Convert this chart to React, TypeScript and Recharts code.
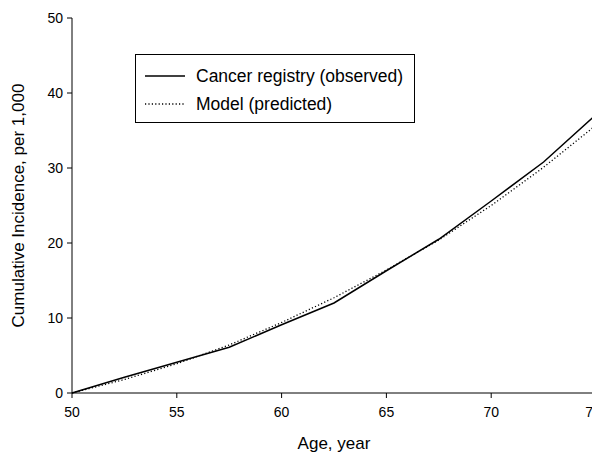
import React from 'react';
import { LineChart, Line, XAxis, YAxis } from 'recharts';

// Cumulative incidence per 1,000, by age
const ages = [50, 52.5, 55, 57.5, 60, 62.5, 65, 67.5, 70, 72.5, 75];
const observed = [0, 2.1, 4.1, 6.1, 9.1, 12.0, 16.3, 20.5, 25.6, 30.8, 37.1];
const predicted = [0, 1.8, 3.9, 6.4, 9.4, 12.7, 16.4, 20.4, 25.0, 30.1, 35.7];

const xTicks = [50, 55, 60, 65, 70, 75];
const yTicks = [0, 10, 20, 30, 40, 50];

const seriesNames = ['Cancer registry (observed)', 'Model (predicted)'];

const FONT = '"Liberation Sans", Arial, Helvetica, sans-serif';

const data = ages.map((age, i) => ({
  age,
  observed: observed[i],
  predicted: predicted[i],
}));

// boxed legend drawn over the plot, top-left area
function BoxLegend() {
  const rows = [
    { name: seriesNames[0], dash: undefined, width: 1.5, top: 22 },
    { name: seriesNames[1], dash: '1.2 2.2', width: 1.3, top: 50 },
  ];
  return (
    <div
      style={{
        position: 'absolute',
        left: 127,
        top: 46,
        width: 280,
        height: 69,
        boxSizing: 'border-box',
        border: '1px solid #000',
        background: '#fff',
        fontFamily: FONT,
        fontSize: 17.5,
        color: '#000',
      }}
    >
      {rows.map((r) => (
        <React.Fragment key={r.name}>
          <svg width={40} height={4} style={{ position: 'absolute', left: 9, top: r.top - 3 }}>
            <line x1={0} y1={2} x2={40} y2={2} stroke="#000" strokeWidth={r.width} strokeDasharray={r.dash} />
          </svg>
          <span style={{ position: 'absolute', left: 60, top: r.top - 11, lineHeight: '20px', whiteSpace: 'nowrap' }}>
            {r.name}
          </span>
        </React.Fragment>
      ))}
    </div>
  );
}

export default function App() {
  return (
    <div style={{ position: 'relative', width: 592, height: 445, background: '#fff' }}>
      <LineChart width={592} height={445} data={data} margin={{ top: 10, right: 4, bottom: 30, left: 20 }}>
        <XAxis
          dataKey="age"
          type="number"
          domain={[50, 75]}
          ticks={xTicks}
          allowDecimals={false}
          height={30}
          stroke="#000"
          tickSize={5}
          tickMargin={9}
          tick={{ fill: '#000', fontSize: 14, fontFamily: FONT }}
          label={{ value: 'Age, year', position: 'insideBottom', offset: -26, fill: '#000', fontSize: 17, fontFamily: FONT }}
        />
        <YAxis
          type="number"
          domain={[0, 50]}
          ticks={yTicks}
          width={44}
          stroke="#000"
          tickSize={5}
          tickMargin={4}
          tick={{ fill: '#000', fontSize: 14, fontFamily: FONT }}
          label={{
            value: 'Cumulative Incidence, per 1,000',
            angle: -90,
            position: 'insideLeft',
            offset: -10,
            style: { textAnchor: 'middle' },
            fill: '#000',
            fontSize: 17,
            fontFamily: FONT,
          }}
        />
        <Line
          dataKey="observed"
          name={seriesNames[0]}
          stroke="#000"
          strokeWidth={1.5}
          dot={false}
          isAnimationActive={false}
        />
        <Line
          dataKey="predicted"
          name={seriesNames[1]}
          stroke="#000"
          strokeWidth={1.3}
          strokeDasharray="1.2 2.2"
          dot={false}
          isAnimationActive={false}
        />
      </LineChart>
      <BoxLegend />
    </div>
  );
}
